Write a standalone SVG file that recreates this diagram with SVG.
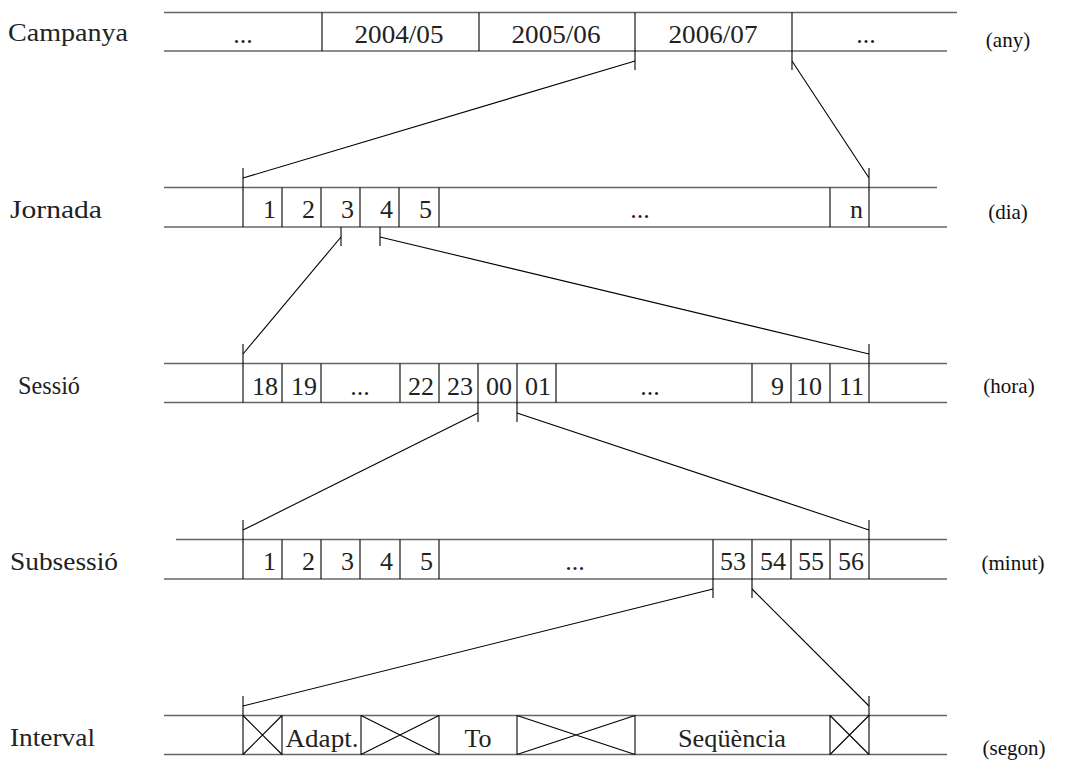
<svg xmlns="http://www.w3.org/2000/svg" width="1068" height="760" viewBox="0 0 1068 760">
<style>
.h{stroke:#666;stroke-width:1.6;fill:none}
.v{stroke:#000;stroke-width:1.1;fill:none}
.c{stroke:#000;stroke-width:1.1;fill:none}
.t{font-family:"Liberation Serif","Times New Roman",serif;font-size:26px;fill:#222}
.m{text-anchor:middle}
.e{text-anchor:end}
.u{font-family:"Liberation Serif","Times New Roman",serif;font-size:21px;fill:#111;text-anchor:middle}
</style>
<rect width="1068" height="760" fill="#fff"/>
<g id="campanya">
<line class="h" x1="164" y1="12.5" x2="957" y2="12.5"/>
<line class="h" x1="164" y1="51" x2="947" y2="51"/>
<line class="v" x1="322" y1="12.5" x2="322" y2="51"/>
<line class="v" x1="479" y1="12.5" x2="479" y2="51"/>
<line class="v" x1="635" y1="12.5" x2="635" y2="70"/>
<line class="v" x1="792" y1="12.5" x2="792" y2="70"/>
<text class="t" x="8" y="41" textLength="120" lengthAdjust="spacingAndGlyphs">Campanya</text>
<text class="t m" x="243" y="42.5">...</text>
<text class="t m" x="399" y="42.5" textLength="89" lengthAdjust="spacingAndGlyphs">2004/05</text>
<text class="t m" x="556" y="42.5" textLength="89" lengthAdjust="spacingAndGlyphs">2005/06</text>
<text class="t m" x="713" y="42.5" textLength="89" lengthAdjust="spacingAndGlyphs">2006/07</text>
<text class="t m" x="866" y="42.5">...</text>
<text class="u" x="1008" y="47">(any)</text>
</g>
<g id="jornada">
<line class="h" x1="164" y1="187.5" x2="937" y2="187.5"/>
<line class="h" x1="164" y1="227" x2="947" y2="227"/>
<line class="v" x1="243" y1="168" x2="243" y2="227"/>
<line class="v" x1="282" y1="187.5" x2="282" y2="227"/>
<line class="v" x1="321" y1="187.5" x2="321" y2="227"/>
<line class="v" x1="360" y1="187.5" x2="360" y2="227"/>
<line class="v" x1="399" y1="187.5" x2="399" y2="227"/>
<line class="v" x1="439" y1="187.5" x2="439" y2="227"/>
<line class="v" x1="830" y1="187.5" x2="830" y2="227"/>
<line class="v" x1="869" y1="168" x2="869" y2="227"/>
<line class="v" x1="341" y1="227" x2="341" y2="246"/>
<line class="v" x1="380" y1="227" x2="380" y2="246"/>
<text class="t" x="10" y="218" textLength="92" lengthAdjust="spacingAndGlyphs">Jornada</text>
<text class="t e" x="276" y="218">1</text>
<text class="t e" x="315" y="218">2</text>
<text class="t e" x="354" y="218">3</text>
<text class="t e" x="393" y="218">4</text>
<text class="t e" x="432" y="218">5</text>
<text class="t m" x="640" y="218">...</text>
<text class="t e" x="863" y="218">n</text>
<text class="u" x="1008" y="219">(dia)</text>
</g>
<g id="sessio">
<line class="h" x1="164" y1="363.5" x2="947" y2="363.5"/>
<line class="h" x1="164" y1="402.5" x2="947" y2="402.5"/>
<line class="v" x1="243" y1="344" x2="243" y2="402.5"/>
<line class="v" x1="282" y1="363.5" x2="282" y2="402.5"/>
<line class="v" x1="321" y1="363.5" x2="321" y2="402.5"/>
<line class="v" x1="400" y1="363.5" x2="400" y2="402.5"/>
<line class="v" x1="439" y1="363.5" x2="439" y2="402.5"/>
<line class="v" x1="478" y1="363.5" x2="478" y2="422"/>
<line class="v" x1="517" y1="363.5" x2="517" y2="422"/>
<line class="v" x1="556" y1="363.5" x2="556" y2="402.5"/>
<line class="v" x1="752" y1="363.5" x2="752" y2="402.5"/>
<line class="v" x1="791" y1="363.5" x2="791" y2="402.5"/>
<line class="v" x1="830" y1="363.5" x2="830" y2="402.5"/>
<line class="v" x1="869" y1="344" x2="869" y2="402.5"/>
<text class="t" x="18" y="394" textLength="62" lengthAdjust="spacingAndGlyphs">Sessió</text>
<text class="t e" x="278" y="394.5">18</text>
<text class="t e" x="317" y="394.5">19</text>
<text class="t m" x="360" y="394.5">...</text>
<text class="t e" x="434" y="394.5">22</text>
<text class="t e" x="473" y="394.5">23</text>
<text class="t e" x="512" y="394.5">00</text>
<text class="t e" x="551" y="394.5">01</text>
<text class="t m" x="650" y="394.5">...</text>
<text class="t e" x="784" y="394.5">9</text>
<text class="t e" x="822" y="394.5">10</text>
<text class="t e" x="864" y="394.5">11</text>
<text class="u" x="1009" y="393">(hora)</text>
</g>
<g id="subsessio">
<line class="h" x1="176" y1="539.5" x2="947" y2="539.5"/>
<line class="h" x1="164" y1="579" x2="947" y2="579"/>
<line class="v" x1="243" y1="520" x2="243" y2="579"/>
<line class="v" x1="282" y1="539.5" x2="282" y2="579"/>
<line class="v" x1="321" y1="539.5" x2="321" y2="579"/>
<line class="v" x1="360" y1="539.5" x2="360" y2="579"/>
<line class="v" x1="400" y1="539.5" x2="400" y2="579"/>
<line class="v" x1="439" y1="539.5" x2="439" y2="579"/>
<line class="v" x1="713" y1="539.5" x2="713" y2="598"/>
<line class="v" x1="752" y1="539.5" x2="752" y2="598"/>
<line class="v" x1="791" y1="539.5" x2="791" y2="579"/>
<line class="v" x1="830" y1="539.5" x2="830" y2="579"/>
<line class="v" x1="869" y1="520" x2="869" y2="579"/>
<text class="t" x="10" y="570" textLength="108" lengthAdjust="spacingAndGlyphs">Subsessió</text>
<text class="t e" x="276" y="570">1</text>
<text class="t e" x="315" y="570">2</text>
<text class="t e" x="354" y="570">3</text>
<text class="t e" x="393" y="570">4</text>
<text class="t e" x="433" y="570">5</text>
<text class="t m" x="575" y="570">...</text>
<text class="t e" x="746" y="570">53</text>
<text class="t e" x="786" y="570">54</text>
<text class="t e" x="824" y="570">55</text>
<text class="t e" x="864" y="570">56</text>
<text class="u" x="1013" y="570">(minut)</text>
</g>
<g id="interval">
<line class="h" x1="164" y1="715.5" x2="947" y2="715.5"/>
<line class="h" x1="164" y1="754.5" x2="947" y2="754.5"/>
<line class="v" x1="243" y1="696" x2="243" y2="754.5"/>
<line class="v" x1="282" y1="715.5" x2="282" y2="754.5"/>
<line class="v" x1="361" y1="715.5" x2="361" y2="754.5"/>
<line class="v" x1="439" y1="715.5" x2="439" y2="754.5"/>
<line class="v" x1="517" y1="715.5" x2="517" y2="754.5"/>
<line class="v" x1="635" y1="715.5" x2="635" y2="754.5"/>
<line class="v" x1="830" y1="715.5" x2="830" y2="754.5"/>
<line class="v" x1="869" y1="696" x2="869" y2="754.5"/>
<path class="v" d="M243 715.5L282 754.5M243 754.5L282 715.5M361 715.5L439 754.5M361 754.5L439 715.5M517 715.5L635 754.5M517 754.5L635 715.5M830 715.5L869 754.5M830 754.5L869 715.5"/>
<text class="t" x="10" y="746" textLength="85" lengthAdjust="spacingAndGlyphs">Interval</text>
<text class="t m" x="322" y="747" textLength="73" lengthAdjust="spacingAndGlyphs">Adapt.</text>
<text class="t m" x="478" y="747">To</text>
<text class="t m" x="732" y="747" textLength="108" lengthAdjust="spacingAndGlyphs">Seqüència</text>
<text class="u" x="1014" y="755">(segon)</text>
</g>
<g id="connectors">
<line class="c" x1="635" y1="61" x2="243" y2="178"/>
<line class="c" x1="792" y1="61" x2="869" y2="178"/>
<line class="c" x1="341" y1="237" x2="243" y2="354"/>
<line class="c" x1="380" y1="237" x2="869" y2="354"/>
<line class="c" x1="478" y1="413" x2="243" y2="530"/>
<line class="c" x1="517" y1="413" x2="869" y2="530"/>
<line class="c" x1="713" y1="589" x2="243" y2="706"/>
<line class="c" x1="752" y1="589" x2="869" y2="706"/>
</g>
</svg>
